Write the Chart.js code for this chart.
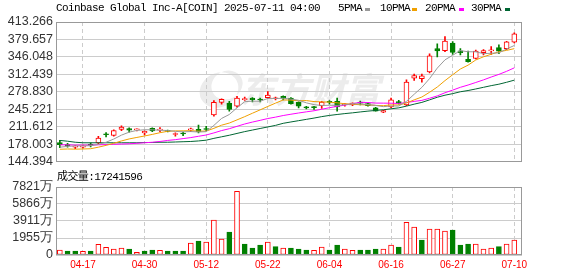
<!DOCTYPE html>
<html>
<head>
<meta charset="utf-8">
<script src="https://cdn.jsdelivr.net/npm/chart.js@4.4.1/dist/chart.umd.min.js"></script>
<style>
body { margin: 0; background: #fff; }
#wrap { position: relative; width: 578px; height: 276px; overflow: hidden; }
canvas { position: absolute; left: 0; }
.t { position: absolute; font: 11px "Liberation Mono", "Noto Sans CJK SC", monospace; letter-spacing: -0.6px; color: #000; white-space: nowrap; line-height: 12px; }
.sq { position: absolute; top: 8px; width: 5px; height: 3px; }
</style>
</head>
<body>
<div id="wrap">
  <canvas id="kline" width="578" height="172" style="top:0"></canvas>
  <canvas id="vol" width="578" height="104" style="top:172px"></canvas>
  <div class="t" style="left:56px;top:2px">Coinbase Global Inc-A[COIN] 2025-07-11 04:00</div>
  <div class="t" style="left:338px;top:2px">5PMA</div><div class="sq" style="left:365px;background:#999999"></div>
  <div class="t" style="left:380px;top:2px">10PMA</div><div class="sq" style="left:412px;background:#f0a000"></div>
  <div class="t" style="left:425px;top:2px">20PMA</div><div class="sq" style="left:459px;background:#ff00ff"></div>
  <div class="t" style="left:471px;top:2px">30PMA</div><div class="sq" style="left:505px;background:#006633"></div>
  <div class="t" style="left:57px;top:171px">成交量:17241596</div>
</div>
<script>
// 날짜 (거래일)
const dates = ['04-14','04-15','04-16','04-17','04-21','04-22','04-23','04-24','04-25','04-28','04-29','04-30',
  '05-01','05-02','05-05','05-06','05-07','05-08','05-09','05-12','05-13','05-14','05-15','05-16','05-19','05-20','05-21','05-22','05-23','05-27','05-28','05-29','05-30',
  '06-02','06-03','06-04','06-05','06-06','06-09','06-10','06-11','06-12','06-13','06-16','06-17','06-18','06-20','06-23','06-24','06-25','06-26','06-27','06-30',
  '07-01','07-02','07-03','07-07','07-08','07-09','07-10'];

// 시가 / 고가 / 저가 / 종가
const opens  = [181,176.5,172,172,177,180,196.5,194.6,206,207.7,205.4,199.5,208.3,205,204,196.5,198.2,205.4,206.5,207,
  234,258.5,257,251,263.6,266.4,263.8,267.2,265.4,269.8,266.6,258.5,248.4,248.6,252.2,258.8,260.4,253.5,254,257.6,
  255.9,247.8,239.7,249.7,259.7,253.5,304.8,304.2,317,362,358,372.5,357.5,341.5,343,354,357.5,364,362,374.5];
const highs  = [185,179.5,175.5,176,180.5,193,200,205.5,213,209.5,207.5,203.5,209.5,210,205,199.5,201,209,214.5,212,
  262,265,260.5,270,268.5,267.5,266.5,279,268.5,271,267.5,259.5,250.5,250.5,260.4,262,266.6,256,257.5,261,
  257,249,243,266.6,262.5,301.8,313,313,351.8,371.3,385.1,375.7,362,357,359,360,366,369.5,376,392.5];
const lows   = [171,172,169,170,172.5,179,192,193,204,201,203.5,195.7,202,202,201.5,193,194,202,199.5,203.5,
  232,255,241.6,249,262,259,259,266,263,263,255,247.8,245.5,245,246.5,255,241.6,251,252,253.5,
  251,241.3,238.5,248,255,252,300.5,297.3,315,346.1,356,350.6,350,336,342,350,351,352,360,373];
const closes = [177,175,173,173.5,175.5,189.5,196,204,210.8,204.6,206,202.7,203.3,206.5,202.5,197.6,197.4,206.3,202,206,
  258.5,264,244.6,266.6,265,263.4,263,272.2,266.2,266.5,256,251,247.8,248.1,259.1,258.3,249.7,254.2,257.2,257,
  252.2,241.6,242.7,263.4,256.5,297.3,309.9,309.5,348,357.5,376.5,354.5,354,337,357,358.3,359,357,375,390.5];

// 이동평균선
const ma5  = [172,173.5,174.5,174.5,174.8,177.3,181.5,187.7,195.2,201,204.3,205.6,205.5,204.6,204.2,202.5,201.5,202.1,201.2,201.9,
  214,227.4,235,247.9,259.7,260.7,260.5,266,265.9,266.2,264.7,262.3,257.5,253.9,252.4,252.8,252.6,253.9,255.7,255.3,
  254.1,252.4,250.1,251.4,251.3,260.3,274,287.3,304.2,324.4,340.3,349.2,358.1,355.9,355.8,352.2,353.1,353.7,361.3,368];
const ma10 = [168,168.5,168.2,168.5,169,172,175.5,179.5,184,187.9,190.8,193.6,196.6,199.9,202.6,203.4,203.5,203.8,202.9,203,
  208.3,214.4,218.5,224.6,230.8,237.4,243.9,250.5,256.9,263,262.7,261.4,261.8,259.9,259.3,258.8,257.5,255.7,254.8,253.8,
  253.5,252.5,252,253.5,253.3,257.2,263.2,268.7,277.8,287.9,300.3,311.6,322.7,330.1,340.1,346.2,351.1,355.9,358.6,361.9];
const ma20 = [176.5,176.5,176,176,176,176.5,177,177.5,178,178.5,179.5,180.5,181.5,183,185,186.5,188.5,190.5,193,195.5,
  199.5,204,207.6,212.2,216.7,220.4,223.7,227.2,229.9,233,235.5,237.9,240.1,242.2,245.1,248.1,250.7,253.1,255.9,258.4,
  258.1,257,256.9,256.7,256.3,258,260.3,262.2,266.3,270.8,276.9,282,287.4,291.8,296.7,301.7,307.2,312.3,318.2,324.9];
const ma30 = [185,183.5,181.5,180.5,180.5,180.5,180.5,180.5,180.5,180.5,180.5,181,181,181.5,181.5,182,182.5,183,184,185.5,
  189,192,195,198.5,202,205,208,211,214,218,220.6,223.1,225.6,228.1,230.9,233.2,235,236.7,238.2,239.9,
  241.5,242.8,244.1,246,247.8,251.1,254.9,258.3,263.2,268.2,272.2,275.2,278.8,281.2,284.2,287.4,290.6,293.4,297.1,301.2];

// 거래량 (万) 과 색상 (1 = 빨강, 0 = 초록)
const volumes = [575,460,460,420,460,1230,880,690,800,690,310,460,575,530,460,460,460,1380,1610,1495,
  4025,1840,2645,7325,1265,805,1150,1495,955,805,805,690,575,540,920,575,1150,690,540,575,
  575,690,690,1150,920,3760,3220,1725,2990,2990,2760,2875,1150,1265,1265,690,805,955,1265,1724];
const volUp = [1,0,0,1,0,1,1,1,1,0,1,0,0,1,0,0,0,1,0,1,1,1,0,1,0,0,0,1,0,1,
  0,0,0,1,1,0,0,1,1,0,0,0,1,1,0,1,1,0,1,1,1,0,0,0,1,1,1,0,1,1];

// 축 눈금
const priceTicks = [144.394,178.003,211.612,245.221,278.830,312.439,346.048,379.657,413.266];
const volTicks = [0,1955,3911,5866,7821];
const xTickIdx = [3,11,19,27,35,43,51,59];

const RED = '#ff0000';
const GREEN = '#008000';
const GRID = '#cccccc';
const labelFont = { family: 'Liberation Sans', size: 12.5 };

// 테두리 그리기
const framePlugin = {
  id: 'frame',
  afterDraw(chart) {
    const a = chart.chartArea, ctx = chart.ctx;
    ctx.save();
    ctx.strokeStyle = '#999999';
    ctx.lineWidth = 1;
    ctx.strokeRect(Math.round(a.left) + 0.5, Math.round(a.top) + 0.5,
      Math.round(a.right - a.left) - 1, Math.round(a.bottom - a.top) - 1);
    ctx.restore();
  }
};

// 워터마크
const watermark = {
  id: 'watermark',
  beforeDraw(chart) {
    const ctx = chart.ctx;
    ctx.save();
    ctx.fillStyle = '#ececec';
    ctx.beginPath();
    ctx.ellipse(219, 90, 20, 17, -0.5, 0, Math.PI * 2);
    ctx.ellipse(227, 85, 16, 14, -0.5, 0, Math.PI * 2);
    ctx.fill('evenodd');
    ctx.font = 'italic bold 35px "Noto Sans CJK SC"';
    ctx.textBaseline = 'alphabetic';
    ctx.fillText('东方财富', 240, 103);
    ctx.restore();
  }
};

function xScale(showLabels) {
  return {
    type: 'linear', min: -0.5, max: 60, offset: false,
    afterBuildTicks: s => { s.ticks = xTickIdx.map(v => ({ value: v })); },
    afterFit: s => { s.height = showLabels ? 21 : 0; },
    ticks: {
      display: showLabels, autoSkip: false, maxRotation: 0, padding: 4,
      color: RED, font: { family: 'Liberation Sans', size: 10 },
      callback: v => dates[v]
    },
    grid: { color: GRID, drawTicks: false, offset: false },
    border: { display: false, dash: [4, 3] }
  };
}

function lineSet(label, arr, color) {
  return {
    type: 'line', label: label,
    data: arr.map((v, i) => ({ x: i, y: v })),
    borderColor: color, borderWidth: 1, pointRadius: 0, tension: 0
  };
}

const upCandle = opens.map((o, i) => closes[i] >= o);

new Chart(document.getElementById('kline'), {
  type: 'bar',
  data: {
    datasets: [
      lineSet('5PMA', ma5, '#999999'),
      lineSet('10PMA', ma10, '#f0a000'),
      lineSet('20PMA', ma20, '#ff00ff'),
      lineSet('30PMA', ma30, '#006633'),
      {
        label: 'body',
        data: opens.map((o, i) => ({ x: i, y: [o, closes[i]] })),
        backgroundColor: upCandle.map(u => u ? '#ffffff' : GREEN),
        borderColor: upCandle.map(u => u ? RED : GREEN),
        borderWidth: 1, borderSkipped: false,
        barThickness: 5, minBarLength: 1, grouped: false
      },
      {
        label: 'wick',
        data: lows.map((l, i) => ({ x: i, y: [l, highs[i]] })),
        backgroundColor: upCandle.map(u => u ? RED : GREEN),
        borderWidth: 0, barThickness: 1, grouped: false
      }
    ]
  },
  options: {
    responsive: false, animation: false,
    layout: { padding: { top: 22, right: 56, bottom: 7, left: 0 } },
    plugins: { legend: { display: false }, tooltip: { enabled: false } },
    scales: {
      x: xScale(false),
      y: {
        min: 144.394, max: 413.266,
        afterBuildTicks: s => { s.ticks = priceTicks.map(v => ({ value: v })); },
        afterFit: s => { s.width = 56; },
        ticks: { autoSkip: false, color: '#333333', font: labelFont, padding: 3, callback: v => v.toFixed(3) },
        grid: { color: GRID, drawTicks: false },
        border: { display: false }
      }
    }
  },
  plugins: [watermark, framePlugin]
});

new Chart(document.getElementById('vol'), {
  type: 'bar',
  data: {
    datasets: [{
      label: 'vol',
      data: volumes.map((v, i) => ({ x: i, y: v })),
      backgroundColor: volUp.map(u => u ? '#ffffff' : GREEN),
      borderColor: volUp.map(u => u ? RED : GREEN),
      borderWidth: 1, borderSkipped: false,
      barThickness: 5, grouped: false
    }]
  },
  options: {
    responsive: false, animation: false,
    layout: { padding: { top: 15, right: 56, bottom: 0, left: 0 } },
    plugins: { legend: { display: false }, tooltip: { enabled: false } },
    scales: {
      x: xScale(true),
      y: {
        min: 0, max: 7821,
        afterBuildTicks: s => { s.ticks = volTicks.map(v => ({ value: v })); },
        afterFit: s => { s.width = 56; },
        ticks: { autoSkip: false, color: '#333333', font: labelFont, padding: 3, callback: v => v === 0 ? '0' : v + '万' },
        grid: { color: GRID, drawTicks: false },
        border: { display: false }
      }
    }
  },
  plugins: [framePlugin]
});
</script>
</body>
</html>
